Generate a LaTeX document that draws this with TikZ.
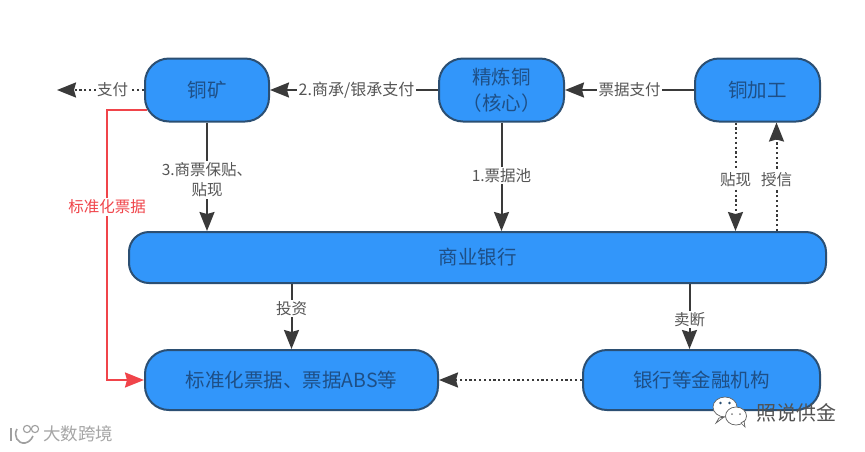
\documentclass[tikz,border=0pt]{standalone}
\usepackage{fontspec}
\setmainfont{Noto Sans CJK SC}
\usetikzlibrary{arrows.meta}
\definecolor{boxfill}{HTML}{3296FA}
\definecolor{boxline}{HTML}{2B4F73}
\definecolor{boxtext}{HTML}{1E4F86}
\definecolor{linkcol}{HTML}{3A3A3A}
\definecolor{labcol}{HTML}{555555}
\definecolor{redcol}{HTML}{F0444A}
\tikzset{
  flow/.style={rectangle,rounded corners=#1,draw=boxline,line width=2pt,fill=boxfill,text=boxtext,
    font=\fontsize{19.5}{25.5}\selectfont,align=center,inner sep=0pt},
  flow/.default=24pt,
  link/.style={draw=linkcol,line width=2pt,-{Stealth[length=19pt,width=15pt,inset=2pt]}},
  dotlink/.style={link,dash pattern=on 2.2pt off 2.6pt},
  redlink/.style={draw=redcol,line width=2pt,-{Stealth[length=19pt,width=15pt,inset=2pt]}},
  lab/.style={fill=white,text=labcol,font=\fontsize{15.5}{20}\selectfont,align=center,inner sep=1.5pt},
  redlab/.style={lab,text=redcol},
  mark1/.style={text=#1,font=\fontsize{20}{24}\selectfont,inner sep=0pt},
}
\begin{document}
\begin{tikzpicture}[x=1pt,y=-1pt]
\useasboundingbox (0,0) rectangle (865,451);
\fill[white] (0,0) rectangle (865,451);

\node[flow,minimum width=124pt,minimum height=63pt] (kuang) at (207,90) {铜矿};
\node[flow,minimum width=125pt,minimum height=63pt] (jl) at (501.5,90) {精炼铜\\（核心）};
\node[flow,minimum width=125pt,minimum height=63pt] (jg) at (757.5,90) {铜加工};
\node[flow=20pt,minimum width=697pt,minimum height=51pt] (bank) at (477.5,257.5) {商业银行};
\node[flow,minimum width=293pt,minimum height=60pt] (abs) at (291.5,380) {标准化票据、票据ABS等};
\node[flow,minimum width=237pt,minimum height=60pt] (jr) at (701.5,380) {银行等金融机构};

\coordinate (payend) at (57,90);
\draw[dotlink] (kuang.west) -- node[lab,pos=.36]{支付} (payend);
\draw[link] (jl.west) -- node[lab,pos=.485,font=\fontsize{16}{20}\selectfont]{2.商承/银承支付} (kuang.east);
\draw[link] (jg.west) -- node[lab,pos=.5]{票据支付} (jl.east);
\draw[link] (kuang.south) -- node[lab,pos=.53]{3.商票保贴、\\贴现} (kuang.south |- bank.north);
\draw[link] (jl.south) -- node[lab,pos=.49]{1.票据池} (jl.south |- bank.north);
\draw[dotlink] ([xshift=-22pt]jg.south) -- node[lab,pos=.53]{贴现} ([xshift=-22pt]jg.south |- bank.north);
\draw[dotlink] ([xshift=19pt]jg.south |- bank.north) -- node[lab,pos=.47]{授信} ([xshift=19pt]jg.south);
\draw[link] (abs.north |- bank.south) -- node[lab,pos=.38]{投资} (abs.north);
\draw[link] ([xshift=-12pt]jr.north |- bank.south) -- node[lab,pos=.55]{卖断} ([xshift=-12pt]jr.north);
\draw[dotlink] (jr.west) -- (abs.east);
\draw[redlink] ([yshift=-20pt,xshift=3pt]kuang.west) -| (107,380) -- (abs.west);
\node[redlab] (redl) at (107,207) {标准化票据};

% WeChat watermark
\begin{scope}[draw=gray!75!black,line width=.7pt,fill=white]
  \filldraw (725,407) ellipse (12pt and 10pt);
  \filldraw (719,418) -- (716,423) -- (724,417) -- cycle;
  \filldraw (736,416) ellipse (10.5pt and 9pt);
  \filldraw (741,423) -- (745,427) -- (744,421) -- cycle;
\end{scope}
\fill[boxline] (720.5,403) circle (1.4pt) (729.5,403) circle (1.4pt);
\fill[gray] (732,414) circle (1pt) (740,414) circle (1pt);
\node[mark1=black!68] (wx) at (796,413) {照说供金};

% Site watermark
\begin{scope}[draw=gray!75,line width=1.6pt]
  \draw (11,428) -- (11,441);
  \draw (17,429) .. controls (13,436) and (18,444) .. (25,443) .. controls (29,442) and (31,440) .. (33,436);
  \draw[line width=1.1pt] (27,429) circle (3.6pt) (35,429) circle (3.6pt);
\end{scope}
\node[mark1=gray!70,font=\fontsize{17.5}{21}\selectfont] (site) at (78,434) {大数跨境};
\end{tikzpicture}
\end{document}
